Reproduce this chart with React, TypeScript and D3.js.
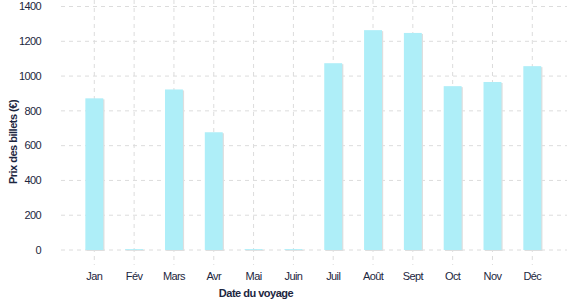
import React from "react";
import * as d3 from "d3";

const months = ["Jan", "Fév", "Mars", "Avr", "Mai", "Juin", "Juil", "Août", "Sept", "Oct", "Nov", "Déc"];
const prices = [872, 5, 923, 677, 5, 5, 1074, 1264, 1248, 942, 966, 1057];
const yTicks = [0, 200, 400, 600, 800, 1000, 1200, 1400];

const W = 577;
const H = 300;
const plotLeft = 61;
const plotRight = 567;
const textColor = "#1c2640";
const font = "'Liberation Sans', Arial, sans-serif";

export default function App() {
  const x = d3
    .scaleBand<string>()
    .domain(months)
    .range([74.4, 552.2])
    .paddingInner(0.55)
    .paddingOuter(0.275);
  const y = d3.scaleLinear().domain([0, 1400]).range([250, 6.5]);
  const bw = x.bandwidth();

  return (
    <svg
      width={W}
      height={H}
      style={{ position: "absolute", left: 0, top: 0, display: "block" }}
      fontFamily={font}
    >
      {/* vertical grid */}
      {months.map((m) => {
        const cx = (x(m) as number) + bw / 2;
        return (
          <line
            key={"v" + m}
            x1={cx}
            x2={cx}
            y1={0}
            y2={265}
            stroke="#dcdcdc"
            strokeDasharray="4,4"
            strokeWidth={1}
          />
        );
      })}
      {/* horizontal grid */}
      {yTicks.map((t) => (
        <line
          key={"h" + t}
          x1={plotLeft}
          x2={plotRight}
          y1={y(t)}
          y2={y(t)}
          stroke="#dcdcdc"
          strokeDasharray="4,4"
          strokeWidth={1}
        />
      ))}
      {/* bars */}
      {months.map((m, i) => {
        const bx = x(m) as number;
        const top = y(prices[i]);
        const h = y(0) - top;
        return (
          <g key={"b" + m}>
            <rect x={bx + 1.2} y={top + 1} width={bw} height={h} fill="#dedede" />
            <rect x={bx} y={top} width={bw} height={h} fill="#aeeef8" />
          </g>
        );
      })}
      {/* y tick labels */}
      {yTicks.map((t) => (
        <text
          key={"yl" + t}
          x={41}
          y={y(t)}
          dy="0.35em"
          textAnchor="end"
          fontSize={11}
          fill={textColor}
          letterSpacing={-0.6}
        >
          {t}
        </text>
      ))}
      {/* x tick labels */}
      {months.map((m) => (
        <text
          key={"xl" + m}
          x={(x(m) as number) + bw / 2}
          y={280}
          textAnchor="middle"
          fontSize={11}
          fill={textColor}
          letterSpacing={-0.6}
        >
          {m}
        </text>
      ))}
      {/* axis titles */}
      <text
        x={256}
        y={297}
        textAnchor="middle"
        fontSize={11}
        fontWeight="bold"
        fill={textColor}
        letterSpacing={-0.5}
      >
        Date du voyage
      </text>
      <text
        transform="translate(17,142) rotate(-90)"
        textAnchor="middle"
        fontSize={11}
        fontWeight="bold"
        fill={textColor}
        letterSpacing={-0.5}
      >
        Prix des billets (€)
      </text>
    </svg>
  );
}
